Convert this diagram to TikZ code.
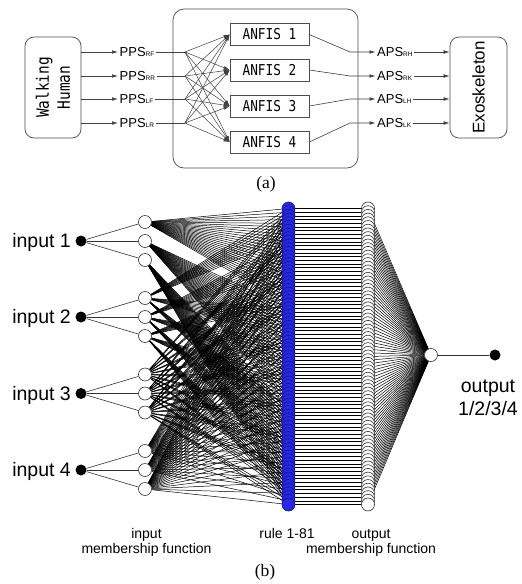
\documentclass[tikz,border=0pt]{standalone}
\usepackage{fontspec}
\setmainfont{Liberation Sans}
\newfontfamily\capserif{Liberation Serif}
\newfontfamily\boxmono[FakeStretch=0.85]{DejaVu Sans Mono}
\usetikzlibrary{arrows.meta,backgrounds}

% small lowered index after a signal name
\newcommand\sigsub[1]{\raisebox{-0.8pt}{\fontsize{6.5}{6.5}\selectfont #1}}

\definecolor{rulefill}{RGB}{40,40,228}
\definecolor{ruleedge}{RGB}{20,20,140}

\begin{document}
\begin{tikzpicture}[x=1pt,y=-1pt,
  frame/.style={draw=black!70, line width=0.7pt, rounded corners=9pt, inner sep=0pt},
  anfis/.style={draw=black!70, line width=0.7pt, minimum width=79pt, minimum height=22pt,
    inner sep=0pt, font=\boxmono\fontsize{15}{15}\selectfont},
  sig/.style={inner xsep=1.5pt, inner ysep=0pt, anchor=west, font=\fontsize{13}{13}\selectfont},
  flow/.style={draw=black!75, line width=0.6pt},
  arr/.style={flow, -{Latex[length=6pt,width=3.6pt]}},
  indot/.style={circle, fill=black, inner sep=0pt, minimum size=11pt},
  mf/.style={circle, draw=black!80, fill=white, line width=0.6pt, inner sep=0pt, minimum size=13pt},
  rulenode/.style={circle, draw=ruleedge, fill=rulefill, line width=0.6pt, inner sep=0pt, minimum size=13pt},
  web/.style={draw=black, line width=0.5pt},
  link/.style={draw=black!80, line width=0.6pt},
  biglab/.style={font=\fontsize{19.5}{23}\selectfont, inner sep=0pt},
  smalllab/.style={font=\fontsize{14}{15}\selectfont, inner sep=0pt, align=center},
  capt/.style={font=\capserif\fontsize{17.5}{17.5}\selectfont, inner sep=0pt}
]
\useasboundingbox (0,0) rectangle (522,584);
\begin{pgfonlayer}{background}
  \fill[white] (0,0) rectangle (522,584);
\end{pgfonlayer}

% ---------------- (a) block diagram ----------------
\node[frame, rounded corners=11pt, minimum width=185pt, minimum height=159pt] (sys) at (265.5,88.5) {};
\node[frame, rotate=90, minimum width=101pt, minimum height=56pt, align=center,
  font=\boxmono\fontsize{17}{21}\selectfont] (wh) at (53,87.5) {Walking\\Human};
\node[frame, rotate=90, minimum width=101pt, minimum height=57pt,
  font=\fontsize{17}{17}\selectfont] (exo) at (478.5,87.5) {Exoskeleton};

\foreach \j/\y in {1/34.5,2/70,3/106,4/142}
  \node[anfis] (anf\j) at (269.5,\y) {ANFIS \j};

\foreach \k/\y/\s in {1/52/RF,2/76/RR,3/99/LF,4/123/LR} {
  \node[sig] (pps\k) at (118,\y) {PPS\sigsub{\s}};
  \coordinate (fan\k) at (185,\y);
  \draw[arr] (wh.south |- pps\k.west) -- (pps\k.west);
  \draw[flow] (pps\k.east) -- (fan\k);
}
\foreach \k in {1,...,4}
  \foreach \j in {1,...,4}
    \draw[arr, line width=0.5pt] (fan\k) -- (anf\j.west);

\foreach \j/\y/\s in {1/52/RH,2/76/RK,3/99/LH,4/123/LK} {
  \node[sig] (aps\j) at (375.5,\y) {APS\sigsub{\s}};
  \coordinate (bend\j) at (350,\y);
  \draw[arr] (anf\j.east) -- (bend\j) -- (aps\j.west);
  \draw[arr] (aps\j.east) -- (exo.north |- aps\j.east);
}

\node[capt, anchor=base] (capa) at (266,188) {(a)};

% ---------------- (b) ANFIS network ----------------
\foreach \i/\y in {1/241,2/317,3/393.5,4/470} {
  \node[indot] (in\i) at (81,\y) {};
  \node[biglab, anchor=base east] (inl\i) at (71,\y+6.8) {input \i};
  \foreach \m in {0,1,2} {
    \node[mf] (mf\i\m) at (145,\y-19+19*\m) {};
    \draw[link] (in\i) -- (mf\i\m);
  }
}

\foreach \r in {0,...,80} {
  \node[rulenode] (r\r) at (288.5,208.5+3.7*\r) {};
}
\foreach \r in {0,...,80} {
  \node[mf] (o\r) at (368,208.5+3.7*\r) {};
}
\node[mf] (agg) at (431,355) {};
\node[indot] (out) at (495,355) {};
\draw[link] (agg) -- (out);

\begin{pgfonlayer}{background}
  \foreach \r in {0,...,80} {
    \pgfmathtruncatemacro\da{div(\r,27)}
    \pgfmathtruncatemacro\db{mod(div(\r,9),3)}
    \pgfmathtruncatemacro\dc{mod(div(\r,3),3)}
    \pgfmathtruncatemacro\dd{mod(\r,3)}
    \draw[web] (mf1\da) -- (r\r);
    \draw[web] (mf2\db) -- (r\r);
    \draw[web] (mf3\dc) -- (r\r);
    \draw[web] (mf4\dd) -- (r\r);
    \draw[web] (r\r) -- (o\r);
    \draw[web] (o\r) -- (agg);
  }
\end{pgfonlayer}

% two-line labels: the base anchor sits on the last line
\node[biglab, align=center, anchor=base] (outl) at (488,415) {output\\1/2/3/4};
\node[smalllab, anchor=base] (inmf) at (146.5,553) {input\\membership function};
\node[smalllab, anchor=base] (rl) at (287,538) {rule 1-81};
\node[smalllab, anchor=base] (outmf) at (371,553) {output\\membership function};
\node[capt, anchor=base] (capb) at (265,576.5) {(b)};
\end{tikzpicture}
\end{document}
